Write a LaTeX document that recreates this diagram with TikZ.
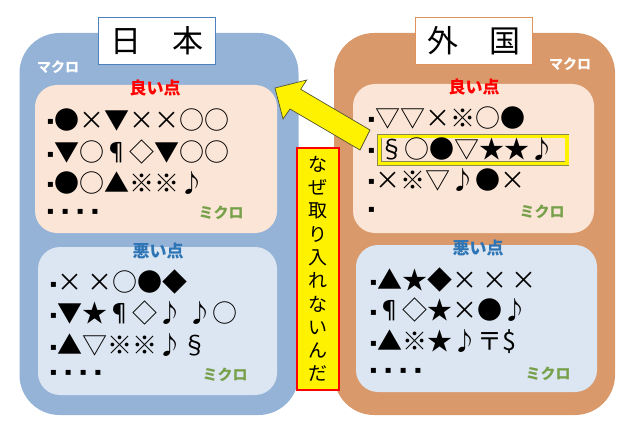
\documentclass[tikz,border=0pt]{standalone}
\usepackage{fontspec}
\setmainfont{Noto Sans CJK JP}
\newfontfamily\dejavu{DejaVu Sans}
\usetikzlibrary{calc}
\usetikzlibrary{positioning,shapes,arrows,arrows.meta}
\definecolor{jpblue}{HTML}{95B3D7}
\definecolor{fgorange}{HTML}{DA996B}
\definecolor{goodfill}{HTML}{FBE5D6}
\definecolor{badfill}{HTML}{DCE6F2}
\definecolor{goodred}{HTML}{FF0000}
\definecolor{badblue}{HTML}{2E75B6}
\definecolor{microgreen}{HTML}{77A04A}
\definecolor{titleblue}{HTML}{4F81BD}
\definecolor{titleorange}{HTML}{E0925C}
\definecolor{markolive}{HTML}{8A8A50}
\tikzstyle{macro} = [rectangle, rounded corners=40pt, minimum width=279pt, minimum height=382pt]
\tikzstyle{title} = [rectangle, fill=white, line width=0.8pt, minimum width=117pt, minimum height=47pt, font=\fontsize{31}{31}\selectfont]
\tikzstyle{point} = [rectangle, rounded corners=22pt, minimum width=241pt, minimum height=148pt]
\tikzstyle{row} = [anchor=west, inner sep=0pt, font=\fontsize{25}{25}\selectfont]
\tikzstyle{goodlabel} = [text=goodred, font=\fontsize{17}{17}\selectfont\bfseries]
\tikzstyle{badlabel} = [text=badblue, font=\fontsize{17}{17}\selectfont\bfseries]
\tikzstyle{micro} = [text=microgreen, font=\fontsize{15}{15}\selectfont\bfseries]
\tikzstyle{macrolabel} = [text=white, font=\fontsize{14}{14}\selectfont\bfseries]
\newcommand{\bul}{\raisebox{4.5pt}{\dejavu\fontsize{10}{10}\selectfont ▪}\hspace{1pt}}
\newcommand{\dotrow}{\bul\hspace{7pt}\bul\hspace{7pt}\bul\hspace{7pt}\bul}

\begin{document}
\begin{tikzpicture}[x=1pt,y=-1pt]
		\useasboundingbox (0,0) rectangle (643,425);
		% two countries
		\node (japan) [macro, fill=jpblue] at (159,224) {};
		\node (foreign) [macro, fill=fgorange, minimum width=281pt] at (474.5,224) {};
		\node (japan-title) [title, draw=titleblue] at (156.5,40.5) {日　本};
		\node (foreign-title) [title, draw=titleorange] at (473.5,40.5) {外　国};
		\node [macrolabel] at (58,67) {マクロ};
		\node [macrolabel] at (570,64) {マクロ};
		
		% good / bad points
		\node (japan-good) [point, fill=goodfill, minimum width=242pt] at (156,159) {};
		\node (japan-bad) [point, fill=badfill, minimum width=239pt] at (157.5,321) {};
		\node (foreign-good) [point, fill=goodfill, minimum height=149pt] at (473.5,158.5) {};
		\node (foreign-bad) [point, fill=badfill, minimum height=147pt] at (476.5,318.5) {};
		
		\node [goodlabel] at (155,88) {良い点};
		\node [goodlabel] at (474,87) {良い点};
		\node [badlabel] at (158,251) {悪い点};
		\node [badlabel] at (478,248) {悪い点};
		
		\node (jg1) [row] at (47,120) {\bul●×▼××○○};
		\node (jg2) [row] at (47,152) {\bul▼○¶◇▼○○};
		\node (jg3) [row] at (47,183) {\bul●○▲※※♪};
		\node (jg4) [row] at (47,214) {\dotrow};
		\node [micro] at (221,213) {ミクロ};
		
		\node (jb1) [row] at (50,282) {\bul×\,×○●◆};
		\node (jb2) [row] at (50,313) {\bul▼★¶◇♪\,♪○};
		\node (jb3) [row] at (50,345) {\bul▲▽※※♪§};
		\node (jb4) [row] at (50,375) {\dotrow};
		\node [micro] at (225,375) {ミクロ};
		
		\node (fg1) [row] at (368,118) {\bul▽▽×※○●};
		\node (fg-mark) [draw=markolive, line width=0.6pt, double=yellow, double distance=3.2pt, minimum width=187.5pt, minimum height=27.2pt, inner sep=0pt] at (473.3,149.8) {};
		\node (fg2) [row] at (368,149) {\bul\hspace{4pt}§○●▽★★♪};
		\node (fg3) [row] at (368,180) {\bul×※▽♪●×};
		\node (fg4) [row] at (368,212) {\bul};
		\node [micro] at (542,212) {ミクロ};
		
		\node (fb1) [row] at (370,280) {\bul▲★◆×\,×\,×};
		\node (fb2) [row] at (370,310) {\bul¶◇★×●♪};
		\node (fb3) [row] at (370,342) {\bul▲※★♪〒\$};
		\node (fb4) [row] at (370,373) {\dotrow};
		\node [micro] at (548,374) {ミクロ};
		
		% the question
		\coordinate (tip) at (275,88);
		\draw [fill=yellow, draw=markolive!60!black, line width=0.7pt]
		(tip) -- (306.7,80) -- (300.7,89.3) -- (370,130) -- (360,150) -- (290,109) -- (283,119) -- cycle;
		
		\node (why) [draw=red, fill=yellow, line width=2.2pt, minimum width=42pt, minimum height=242pt, align=center, inner sep=0pt, font=\fontsize{19}{23.3}\selectfont] at (318,269) {な\\ぜ\\取\\り\\入\\れ\\な\\い\\ん\\だ};
	\end{tikzpicture}
\end{document}
